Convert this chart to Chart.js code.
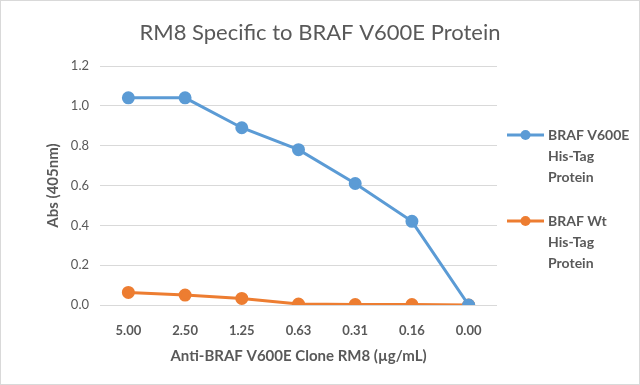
<!DOCTYPE html>
<html><head><meta charset="utf-8">
<script src="https://cdn.jsdelivr.net/npm/chart.js@4/dist/chart.umd.min.js"></script>
<style>
html,body{margin:0;padding:0;background:#fff;}
#wrap{position:relative;width:640px;height:385px;box-sizing:border-box;border:1px solid #d9d9d9;overflow:hidden;}
canvas{position:absolute;left:-1px;top:-1px;}
</style></head><body>
<div id="wrap"><canvas id="c" width="640" height="385"></canvas></div>
<script>
const categories = ["5.00","2.50","1.25","0.63","0.31","0.16","0.00"];
const v600eValues = [1.04, 1.04, 0.89, 0.78, 0.61, 0.42, 0.00];
const wtValues = [0.063, 0.05, 0.033, 0.005, 0.002, 0.002, 0.000];
const seriesLabels = [["BRAF V600E","His-Tag","Protein"],["BRAF Wt","His-Tag","Protein"]];
const yTicks = [0,0.2,0.4,0.6,0.8,1.0,1.2];
const chartTitle = "RM8 Specific to BRAF V600E Protein";

const BLUE = "#5B9BD5", ORANGE = "#ED7D31", TXT = "#595959";
const FONT = "Lato, 'Open Sans', sans-serif";

const extras = {
  id: "extras",
  afterDraw(chart) {
    const ctx = chart.ctx;
    ctx.save();
    ctx.fillStyle = TXT;
    ctx.font = "22px " + FONT;
    ctx.textAlign = "center";
    ctx.textBaseline = "middle";
    ctx.fillText(chartTitle, 320, 33);
    ctx.restore();
    const starts = [135, 221];
    chart.data.datasets.forEach((ds, i) => {
      const y0 = starts[i];
      ctx.save();
      ctx.strokeStyle = ds.borderColor;
      ctx.lineWidth = 3;
      ctx.beginPath(); ctx.moveTo(507, y0); ctx.lineTo(544, y0); ctx.stroke();
      ctx.fillStyle = ds.borderColor;
      ctx.beginPath(); ctx.arc(525.5, y0, 5, 0, Math.PI*2); ctx.fill();
      ctx.fillStyle = TXT;
      ctx.font = "bold 14px " + FONT;
      ctx.textBaseline = "middle";
      ds.label.forEach((ln, k) => ctx.fillText(ln, 548, y0 + k*21));
      ctx.restore();
    });
  }
};

new Chart(document.getElementById("c"), {
  type: "line",
  data: {
    labels: categories,
    datasets: [
      {label: seriesLabels[0], data: v600eValues, borderColor: BLUE, backgroundColor: BLUE,
       borderWidth: 3, pointRadius: 5, pointHoverRadius: 5, tension: 0},
      {label: seriesLabels[1], data: wtValues, borderColor: ORANGE, backgroundColor: ORANGE,
       borderWidth: 3, pointRadius: 5, pointHoverRadius: 5, tension: 0}
    ]
  },
  options: {
    responsive: false,
    animation: false,
    devicePixelRatio: 1,
    layout: {padding: {left: 44, right: 143, top: 66, bottom: 0}},
    plugins: {
      legend: {display: false},
      tooltip: {enabled: false},
      title: {display: false}
    },
    scales: {
      x: {
        offset: true,
        grid: {display: false},
        border: {display: false},
        ticks: {color: TXT, font: {family: FONT, size: 13, weight: "bold"}, padding: 10},
        title: {display: true, text: "Anti-BRAF V600E Clone RM8 (µg/mL)", color: TXT,
                font: {family: FONT, size: 15, weight: "bold"}, padding: {top: 4, bottom: 20}},
        afterFit(s) { s.height = 80; }
      },
      y: {
        min: 0, max: 1.2,
        afterBuildTicks(s) { s.ticks = yTicks.map(v => ({value: v})); },
        grid: {color: "#d9d9d9", drawTicks: false, lineWidth: 1},
        border: {display: false},
        ticks: {color: TXT, font: {family: FONT, size: 13}, padding: 11,
                callback: v => Number(v).toFixed(1)},
        title: {display: true, text: "Abs (405nm)", color: TXT,
                font: {family: FONT, size: 15, weight: "bold"}, padding: 0},
        afterFit(s) { s.width = 56; }
      }
    }
  },
  plugins: [extras]
});
</script>
</body></html>
